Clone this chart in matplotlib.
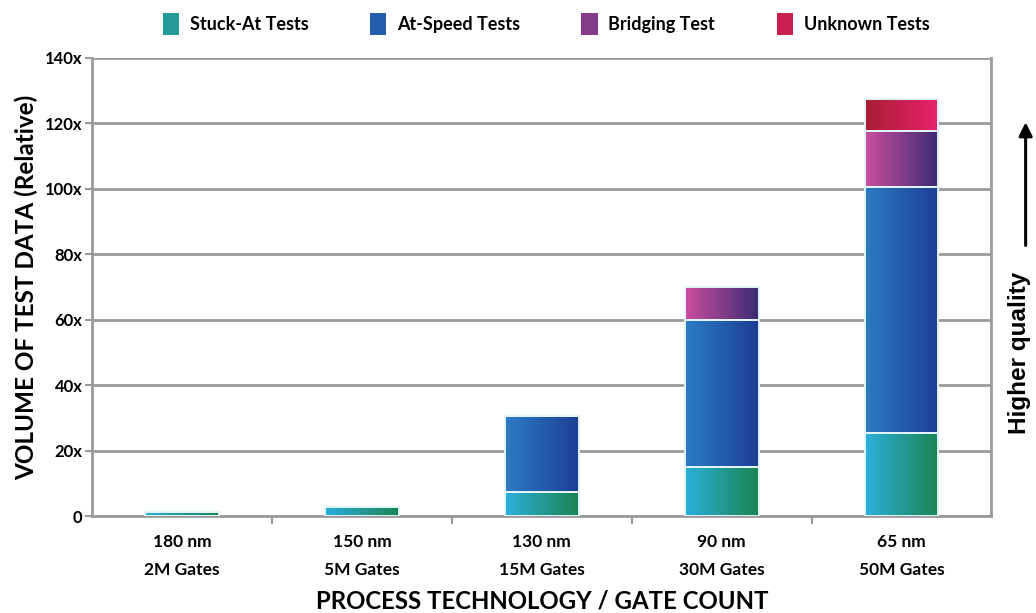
import matplotlib
matplotlib.use('Agg')
import matplotlib.pyplot as plt
import numpy as np
from matplotlib.colors import LinearSegmentedColormap
from matplotlib.patches import Rectangle

plt.rcParams['font.family'] = ['Lato', 'DejaVu Sans']
plt.rcParams['font.weight'] = 'bold'
plt.rcParams['axes.labelweight'] = 'bold'

nodes = ['180 nm', '150 nm', '130 nm', '90 nm', '65 nm']
gates = ['2M Gates', '5M Gates', '15M Gates', '30M Gates', '50M Gates']

series = ['Stuck-At Tests', 'At-Speed Tests', 'Bridging Test', 'Unknown Tests']
stuck_at = [1.2, 2.8, 7.5, 15.0, 25.5]
at_speed = [0.0, 0.0, 23.0, 45.0, 75.0]
bridging = [0.0, 0.0, 0.0, 10.0, 17.0]
unknown = [0.0, 0.0, 0.0, 0.0, 10.0]

# left -> right gradient colours per series
grads = [('#2bb0dc', '#1a8450'),
         ('#2b7cc4', '#1d3e94'),
         ('#cc4f9e', '#3a2a74'),
         ('#a81e34', '#e8226a')]

fig = plt.figure(figsize=(10.36, 6.13), dpi=100)
ax = fig.add_axes([0.089, 0.158, 0.868, 0.748])

x = np.arange(len(nodes))
width = 0.41
bottom = np.zeros(len(nodes))
grad = np.linspace(0, 1, 256).reshape(1, -1)

for name, vals, (c0, c1) in zip(series, [stuck_at, at_speed, bridging, unknown], grads):
    vals = np.array(vals)
    bars = ax.bar(x, vals, width, bottom=bottom, facecolor='none',
                  edgecolor='#e2f4fc', linewidth=1.4, zorder=3)
    cmap = LinearSegmentedColormap.from_list(name, [c0, c1])
    for b, v in zip(bars, vals):
        if v <= 0:
            continue
        bx, by = b.get_xy()
        im = ax.imshow(grad, cmap=cmap, aspect='auto', zorder=2.5,
                       extent=[bx, bx + b.get_width(), by, by + b.get_height()])
        im.set_clip_path(b)
    bottom += vals

ax.set_xlim(-0.5, len(nodes) - 0.5)
ax.set_ylim(0, 140)

yt = np.arange(0, 141, 20)
ax.set_yticks(yt, ['0'] + [f'{v}x' for v in yt[1:]])
ax.yaxis.grid(True, color='#9a9a9a', linewidth=2)
ax.set_axisbelow(True)
ax.tick_params(axis='y', length=5, width=1.5, color='#9a9a9a', labelsize=12, pad=2)

ax.set_xticks(x, [f'{n}\n{g}' for n, g in zip(nodes, gates)])
ax.set_xticks(np.arange(0.5, len(nodes) - 1), minor=True)
ax.tick_params(axis='x', which='major', length=0, labelsize=12.5, pad=13)
ax.tick_params(axis='x', which='minor', length=6, width=1.5, color='#9a9a9a')
for lab in ax.get_xticklabels():
    lab.set_linespacing(1.9)

for side in ['left', 'bottom', 'right']:
    ax.spines[side].set_color('#9a9a9a')
    ax.spines[side].set_linewidth(2)
ax.spines['top'].set_visible(False)

ax.set_ylabel('VOLUME OF TEST DATA (Relative)', fontsize=17.5, labelpad=5)
ax.set_xlabel('PROCESS TECHNOLOGY / GATE COUNT', fontsize=17.3, labelpad=8)

# legend swatches
handles = [Rectangle((0, 0), 1, 1, facecolor=LinearSegmentedColormap.from_list('m', g)(0.5))
           for g in grads]
fig.legend(handles, series, loc='upper center', bbox_to_anchor=(0.527, 1.005), ncol=4,
           frameon=False, fontsize=13, handlelength=0.9, handleheight=1.5,
           columnspacing=3.4, handletextpad=0.6)

# side annotation
fig.text(0.984, 0.425, 'Higher quality', rotation=90, ha='center', va='center',
         fontsize=17.5, family='Liberation Sans', fontweight='bold')
ax.annotate('', xy=(0.990, 0.805), xytext=(0.990, 0.595), xycoords='figure fraction',
            arrowprops=dict(arrowstyle='-|>', color='black', lw=2.2, mutation_scale=20))

fig.savefig('out.png', dpi=100)
